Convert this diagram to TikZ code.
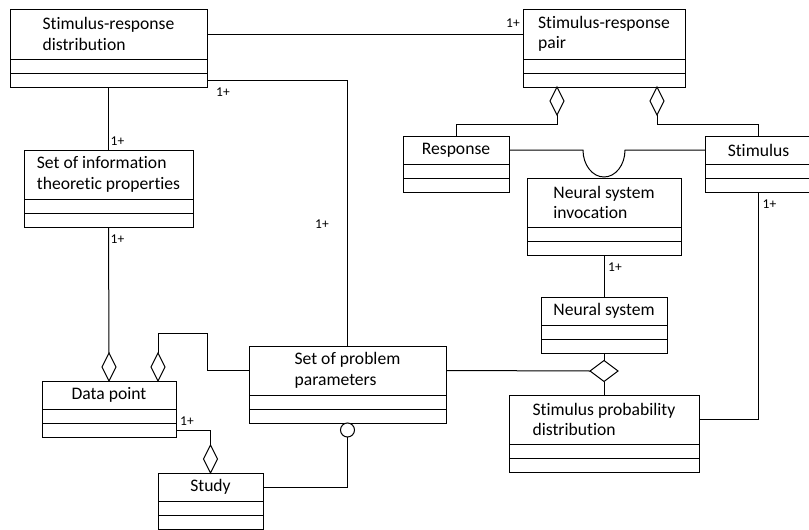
\documentclass[tikz,border=0pt]{standalone}
\usepackage{fontspec}
\setmainfont{Carlito}[Ligatures=NoCommon]
\usetikzlibrary{shapes.geometric}
\newcommand{\clsfont}{\fontsize{17.6}{20.5}\selectfont}
\newcommand{\multfont}{\fontsize{13.5}{15}\selectfont}
\tikzset{
  clshead/.style={draw, line width=1pt, anchor=north west, inner sep=0pt, outer sep=0pt, align=left, font=\clsfont},
  clscomp/.style={draw, line width=1pt, anchor=north west, inner sep=0pt, outer sep=0pt, minimum height=14pt},
  agg/.style={draw, diamond, fill=white, line width=1pt, inner sep=0pt, outer sep=0pt, minimum width=14pt, minimum height=28pt},
  iface/.style={draw, circle, fill=white, line width=1pt, inner sep=0pt, outer sep=0pt, minimum size=14pt},
  mult/.style={font=\multfont, inner sep=0pt},
  conn/.style={line width=1pt}
}
\begin{document}
\begin{tikzpicture}[x=1pt,y=1pt]
  \useasboundingbox (0,0) rectangle (809,-530);
  % classes
  \node[clshead, minimum width=197pt, minimum height=50pt] (srd) at (10,-9) {Stimulus-response\\distribution};
  \node[clscomp, minimum width=197pt] (srd-a) at (srd.south west) {};
  \node[clscomp, minimum width=197pt] (srd-o) at (srd-a.south west) {};
  \node[clshead, minimum width=162pt, minimum height=50pt] (srp) at (523,-9) {Stimulus-response\\pair};
  \node[clscomp, minimum width=162pt] (srp-a) at (srp.south west) {};
  \node[clscomp, minimum width=162pt] (srp-o) at (srp-a.south west) {};
  \node[clshead, minimum width=169pt, minimum height=49pt] (sitp) at (24,-150) {Set of information\\theoretic properties};
  \node[clscomp, minimum width=169pt] (sitp-a) at (sitp.south west) {};
  \node[clscomp, minimum width=169pt] (sitp-o) at (sitp-a.south west) {};
  \node[clshead, minimum width=106pt, minimum height=28pt] (resp) at (403,-136) {Response};
  \node[clscomp, minimum width=106pt] (resp-a) at (resp.south west) {};
  \node[clscomp, minimum width=106pt] (resp-o) at (resp-a.south west) {};
  \node[clshead, minimum width=107pt, minimum height=28pt] (stim) at (705,-136) {Stimulus};
  \node[clscomp, minimum width=107pt] (stim-a) at (stim.south west) {};
  \node[clscomp, minimum width=107pt] (stim-o) at (stim-a.south west) {};
  \node[clshead, minimum width=154pt, minimum height=49pt] (nsi) at (527,-178) {Neural system\\invocation};
  \node[clscomp, minimum width=154pt] (nsi-a) at (nsi.south west) {};
  \node[clscomp, minimum width=154pt] (nsi-o) at (nsi-a.south west) {};
  \node[clshead, minimum width=126pt, minimum height=28pt] (ns) at (541,-297) {Neural system};
  \node[clscomp, minimum width=126pt] (ns-a) at (ns.south west) {};
  \node[clscomp, minimum width=126pt] (ns-o) at (ns-a.south west) {};
  \node[clshead, minimum width=197pt, minimum height=49pt] (spp) at (249,-346) {Set of problem\\parameters};
  \node[clscomp, minimum width=197pt] (spp-a) at (spp.south west) {};
  \node[clscomp, minimum width=197pt] (spp-o) at (spp-a.south west) {};
  \node[clshead, minimum width=134pt, minimum height=28pt] (dp) at (42,-381) {Data point};
  \node[clscomp, minimum width=134pt] (dp-a) at (dp.south west) {};
  \node[clscomp, minimum width=134pt] (dp-o) at (dp-a.south west) {};
  \node[clshead, minimum width=190pt, minimum height=49pt] (spd) at (509,-395) {Stimulus probability\\distribution};
  \node[clscomp, minimum width=190pt] (spd-a) at (spd.south west) {};
  \node[clscomp, minimum width=190pt] (spd-o) at (spd-a.south west) {};
  \node[clshead, minimum width=105pt, minimum height=28pt] (study) at (158,-473) {Study};
  \node[clscomp, minimum width=105pt] (study-a) at (study.south west) {};
  \node[clscomp, minimum width=105pt] (study-o) at (study-a.south west) {};
  % aggregation ends
  \node[agg, anchor=north] (respagg) at ([xshift=-47pt]srp-o.south) {};
  \node[agg, anchor=north] (stimagg) at ([xshift=53pt]srp-o.south) {};
  \node[agg, anchor=south] (dpagg1) at (dp.north) {};
  \node[agg, anchor=south] (dpagg2) at ([xshift=49pt]dp.north) {};
  \node[agg, anchor=south] (studyagg) at (study.north) {};
  \node[agg, minimum width=28pt, minimum height=21pt] (nsagg) at (604,-371) {};
  \node[iface, anchor=north] (sppiface) at (spp-o.south) {};
  \coordinate (bend) at (207,-333);
  \coordinate (hop) at (583,-150);
  % connectors
  \draw[conn] (srd.east) -- (srp.west);
  \draw[conn] (srd-o.east) -| (spp.north);
  \draw[conn] (srd-o.south) -- (sitp.north);
  \draw[conn] (sitp-o.south) -- (dpagg1.north);
  \draw[conn] (dpagg2.north) |- (bend) |- (spp.west);
  \draw[conn] (dp-o.east) -| (studyagg.north);
  \draw[conn] (study.east) -| (sppiface.south);
  \draw[conn] (spp.east) -- (nsagg.west);
  \draw[conn] (ns-o.south) -- (nsagg.north);
  \draw[conn] (nsagg.south) -- (spd.north);
  \draw[conn] (nsi-o.south) -- (ns.north);
  \draw[conn] (stim-o.south) |- (spd.east);
  \draw[conn] (respagg.south) -- ++(0,-9) -| (resp.north);
  \draw[conn] (stimagg.south) -- ++(0,-9) -| (stim.north);
  \draw[conn] (resp.east) -- (hop) arc[start angle=180, end angle=360, x radius=21, y radius=27] -- (stim.west);
  % multiplicities
  \node[mult] (m1) at ([xshift=-10pt,yshift=11pt]srp.west) {1+};
  \node[mult] (m2) at ([xshift=16pt,yshift=-12pt]srd-o.east) {1+};
  \node[mult] (m3) at ([xshift=9pt,yshift=9pt]sitp.north) {1+};
  \node[mult] (m4) at ([xshift=9pt,yshift=-12pt]sitp-o.south) {1+};
  \node[mult] (m5) at (322,-224) {1+};
  \node[mult] (m6) at ([xshift=11pt,yshift=9pt]dp-o.east) {1+};
  \node[mult] (m7) at ([xshift=11pt,yshift=-12pt]nsi-o.south) {1+};
  \node[mult] (m8) at ([xshift=11pt,yshift=-12pt]stim-o.south) {1+};
\end{tikzpicture}
\end{document}
